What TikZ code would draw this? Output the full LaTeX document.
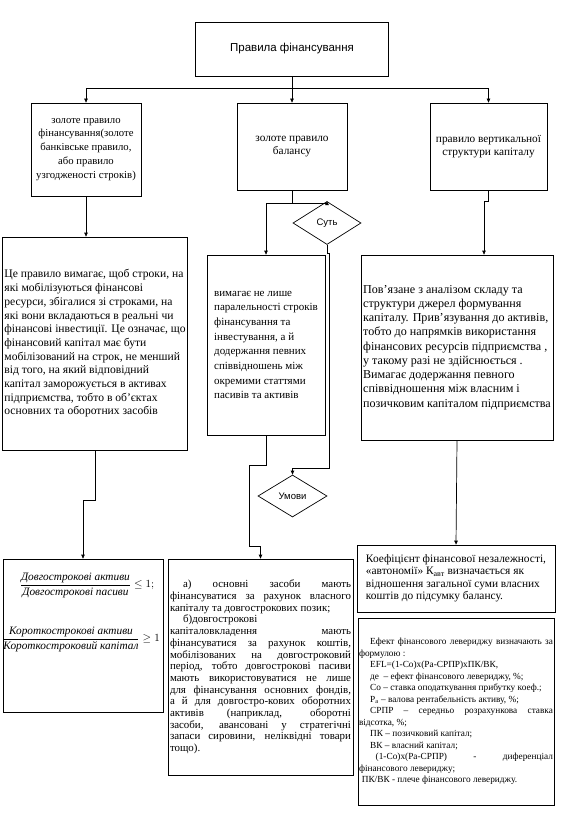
\documentclass[tikz,border=0pt]{standalone}
\usepackage{fontspec}
\usepackage{amsmath}
\setmainfont{Liberation Serif}
\newfontfamily\arialfont{Liberation Sans}
\usetikzlibrary{shapes.geometric, arrows.meta, positioning, calc}

\begin{document}
\begin{tikzpicture}[x=1pt, y=-1pt,
    box/.style={rectangle, draw, inner sep=2pt, align=left, font=\fontsize{11}{13.7}\selectfont},
    hdbox/.style={box, align=center},
    cond/.style={diamond, draw, inner sep=0pt, font=\arialfont\fontsize{9.5}{11}\selectfont},
    arr/.style={-{Triangle[length=4pt, width=3.5pt]}},
    line width=0.7pt
]
    \useasboundingbox (0,0) rectangle (561,813);

    % Top
    \node[hdbox, minimum width=193pt, minimum height=54pt, font=\arialfont\fontsize{11.5}{13}\selectfont] (top) at (292,49) {Правила фінансування};

    % Rules
    \node[hdbox, minimum width=110pt, minimum height=93pt, font=\fontsize{10.7}{13.9}\selectfont] (zg) at (86,149.5)
        {золоте правило\\ фінансування(золоте\\ банківське правило,\\ або правило\\ узгодженості строків)};
    \node[hdbox, minimum width=110pt, minimum height=87pt, font=\fontsize{11.3}{12.5}\selectfont] (zb) at (292,146.5)
        {золоте правило\\ балансу};
    \node[hdbox, minimum width=117pt, minimum height=87pt, font=\fontsize{11.3}{12.5}\selectfont] (vs) at (488.5,146.5)
        {правило вертикальної\\ структури капіталу};

    % Explanations
    \node[box, minimum width=185pt, minimum height=213pt, font=\fontsize{11.6}{13.7}\selectfont] (ce) at (95,343.5)
        {Це правило вимагає, щоб строки, на\\ які мобілізуються фінансові\\ ресурси, збігалися зі строками, на\\
         які вони вкладаються в реальні чи\\ фінансові інвестиції. Це означає, що\\ фінансовий капітал має бути\\
         мобілізований на строк, не менший\\ від того, на який відповідний\\ капітал заморожується в активах\\
         підприємства, тобто в об’єктах\\ основних та оборотних засобів};
    \node[box, minimum width=118pt, minimum height=180pt, font=\fontsize{11}{14.7}\selectfont] (b4) at (266,345)
        {вимагає не лише\\ паралельності строків\\ фінансування та\\ інвестування, а й\\ додержання певних\\
         співвідношень між\\ окремими статтями\\ пасивів та активів};
    \node[box, minimum width=192pt, minimum height=185pt, font=\fontsize{12.1}{14.25}\selectfont] (b5) at (457,347.5)
        {Пов’язане з аналізом складу та\\ структури джерел формування\\ капіталу. Прив’язування до активів,\\
         тобто до напрямків використання\\ фінансових ресурсів підприємства ,\\ у такому разі не здійснюється .\\
         Вимагає додержання певного\\ співвідношення між власним і\\ позичковим капіталом підприємства};

    % Conditions
    \node[cond, minimum width=68pt, minimum height=43pt] (sut) at (327,223) {Суть};
    \node[cond, minimum width=69pt, minimum height=42pt] (umovy) at (292.5,496) {Умови};

    % Bottom row
    \node[box, minimum width=160pt, minimum height=153pt] (bl) at (83,635.5) {};
    \node[font=\fontsize{11.3}{13}\selectfont\itshape, inner sep=0pt] (f1) at (87,585)
        {$\dfrac{\text{\itshape Довгострокові активи}}{\text{\itshape Довгострокові пасиви}}\leq 1;$};
    \node[font=\fontsize{11.3}{13}\selectfont\itshape, inner sep=0pt] (f2) at (81,639)
        {$\dfrac{\text{\itshape Короткострокові активи}}{\text{\itshape Короткостроковий капітал}}\geq 1$};

    \node[box, text width=181pt, align=justify, minimum height=216pt, font=\fontsize{10.9}{11.7}\selectfont] (b6) at (260.5,667)
        {\hspace*{1.2em}а) основні засоби мають\linebreak фінансуватися за рахунок власного\linebreak
         капіталу та довгострокових позик;\\ \hspace*{1.2em}б)довгострокові\\ капіталовкладення мають\linebreak
         фінансуватися за рахунок коштів,\linebreak мобілізованих на довгостроковий\linebreak
         період, тобто довгострокові пасиви\linebreak мають використовуватися не лише\linebreak
         для фінансування основних фондів,\linebreak а й для довгостро-кових оборотних\linebreak
         активів (наприклад, оборотні\linebreak засоби, авансовані у стратегічні\linebreak
         запаси сировини, неліквідні товари\linebreak тощо).};

    \node[box, minimum width=198pt, minimum height=67pt, font=\fontsize{11.4}{12.5}\selectfont] (b7) at (456,578.5)
        {Коефіцієнт фінансової незалежності,\\ «автономії» К\textsubscript{авт} визначається як\\
         відношення загальної суми власних\\ коштів до підсумку балансу.};
    \node[box, text width=194pt, inner sep=1pt, align=justify, minimum height=187pt, font=\fontsize{9.3}{11.5}\selectfont] (b8) at (456,711.5)
        {\hspace*{1.2em}Ефект фінансового левериджу визначають за\linebreak формулою :\\
         \hspace*{1.2em}EFL=(1-Со)х(Ра-СРПР)хПК/ВК,\\
         \hspace*{1.2em}де\ \ – ефект фінансового левериджу, \%;\\
         \hspace*{1.2em}Со – ставка оподаткування прибутку коеф.;\\
         \hspace*{1.2em}Р\textsubscript{а} – валова рентабельність активу, \%;\\
         \hspace*{1.2em}СРПР – середньо розрахункова ставка\linebreak відсотка, \%;\\
         \hspace*{1.2em}ПК – позичковий капітал;\\
         \hspace*{1.2em}ВК – власний капітал;\\
         \hspace*{1.8em}(1-Со)х(Ра-СРПР) - диференціал\linebreak фінансового левериджу;\\
         \hspace*{0.3em}ПК/ВК - плече фінансового левериджу.};

    % Connectors
    \coordinate (hub) at (292,88);
    \draw (top.south) -- (hub);
    \draw[arr] (hub) -| (zg.north);
    \draw[arr] (hub) -- (zb.north);
    \draw[arr] (hub) -| (vs.north);

    \draw[arr] (zg.south) -- (zg.south |- ce.north);
    \draw[arr] (ce.south) -- ++(0,50) -| (bl.north);

    \coordinate (split) at (292,203);
    \draw (zb.south) -- (split);
    \draw[arr] (split) -| (b4.north);
    \draw[arr] (split) -| (sut.north);

    \coordinate (bend) at (329,468);
    \draw[arr] (sut.south) -- ++(0,8) -- ++(2,0) -- (bend) -| (umovy.north);

    \coordinate (side) at (249,465);
    \draw[arr] (b4.south) -- (b4.south |- side) -- (side) -- (249,546) -| (b6.north);

    \draw[arr] (vs.south) -- ++(0,11) -| ([xshift=27pt]b5.north);
    \draw[arr] (b5.south) -- (b7.north);
\end{tikzpicture}
\end{document}
